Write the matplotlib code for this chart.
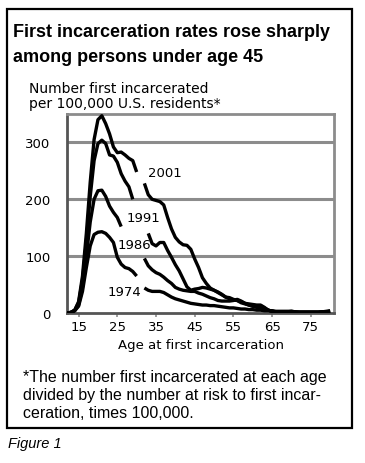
import numpy as np
import matplotlib.pyplot as plt
from matplotlib.patches import Rectangle

nan = np.nan

# ages 12..80
ages = np.arange(12, 81)

rate_2001 = [0, 1, 5, 20, 65, 140, 230, 305, 340, 347, 333, 315, 292, 282, 283,
             278, 272, 268, 248, nan, 228, 208, 200, 198, 196, 190, 168, 148, 133,
             125, 120, 119, 112, 95, 80, 62, 52, 44, 40, 36, 32, 28, 27, 24, 22,
             18, 16, 14, 12, 11, 13, 9, 5, 3, 2, 2, 1, 2, 3, 2, 1, 1, 1, 1, 1, 1,
             2, 3, 4]
rate_1991 = [0, 1, 5, 18, 58, 125, 205, 268, 298, 304, 298, 278, 276, 265, 245,
             232, 222, 200, nan, nan, nan, 140, 122, 118, 124, 124, 110, 98, 85,
             74, 60, 46, 40, 42, 43, 45, 44, 42, 40, 37, 33, 28, 25, 23, 22, 20,
             17, 16, 15, 14, 14, 10, 5, 3, 2, 2, 1, 2, 2, 2, 1, 1, 1, 1, 1, 1, 2,
             2, 3]
rate_1986 = [0, 1, 4, 14, 45, 100, 160, 200, 215, 216, 205, 188, 177, 168, 152,
             nan, nan, nan, nan, nan, 96, 83, 76, 71, 68, 63, 57, 52, 45, 42, 40,
             39, 38, 38, 35, 33, 30, 27, 25, 22, 21, 21, 21, 22, 24, 21, 17, 14,
             12, 10, 8, 7, 5, 3, 2, 2, 1, 1, 2, 1, 1, 1, 1, 1, 1, 1, 2, 2, 3]
rate_1974 = [0, 1, 4, 12, 38, 80, 118, 138, 142, 143, 140, 133, 124, 98, 86, 80,
             78, 73, 65, nan, 44, 40, 38, 38, 38, 36, 32, 28, 25, 23, 21, 19, 17,
             16, 15, 14, 14, 13, 13, 12, 11, 10, 9, 9, 8, 7, 7, 6, 6, 5, 5, 4, 4,
             4, 3, 3, 3, 3, 3, 2, 2, 2, 2, 2, 2, 2, 2, 2, 2]

series = [rate_2001, rate_1991, rate_1986, rate_1974]
labels = ["2001", "1991", "1986", "1974"]
label_pos = [(32.9, 247), (27.5, 168), (25.0, 121), (22.6, 37)]

xticks = [15, 25, 35, 45, 55, 65, 75]
yticks = [0, 100, 200, 300]

W, H = 365, 464
fig = plt.figure(figsize=(W / 100, H / 100), dpi=100)

# outer frame
fig.patches.append(Rectangle((7 / W, 1 - 429 / H), 345 / W, 419 / H,
                             transform=fig.transFigure, fill=False,
                             edgecolor="black", linewidth=1.6))

fig.text(13 / W, 1 - 37 / H, "First incarceration rates rose sharply",
         family="Liberation Sans", weight="bold", fontsize=13, va="baseline")
fig.text(13 / W, 1 - 62 / H, "among persons under age 45",
         family="Liberation Sans", weight="bold", fontsize=13, va="baseline")

fig.text(29 / W, 1 - 93 / H, "Number first incarcerated",
         family="DejaVu Sans", fontsize=10, va="baseline")
fig.text(29 / W, 1 - 108 / H, "per 100,000 U.S. residents*",
         family="DejaVu Sans", fontsize=10, va="baseline")

ax = fig.add_axes([67 / W, 1 - 314 / H, 267 / W, 199 / H])
for y in yticks[1:]:
    ax.axhline(y, color="#8c8c8c", linewidth=2.2, zorder=1)
for ys in series:
    ax.plot(ages, ys, color="black", linewidth=2.4, zorder=3,
            solid_capstyle="butt")
for lab, (x, y) in zip(labels, label_pos):
    ax.text(x, y, lab, family="DejaVu Sans", fontsize=9.5, va="center",
            ha="left")

ax.set_xlim(12, 81)
ax.set_ylim(0, 350)
ax.set_xticks(xticks)
ax.set_yticks(yticks)
ax.tick_params(axis="x", length=3, width=1.2, color="#8c8c8c", pad=2,
               labelsize=9.5)
ax.tick_params(axis="y", length=0, pad=12, labelsize=9.5)
for side in ["top", "right"]:
    ax.spines[side].set_color("#8c8c8c")
    ax.spines[side].set_linewidth(2)
for side in ["left", "bottom"]:
    ax.spines[side].set_color("#555555")
    ax.spines[side].set_linewidth(2)
ax.set_xlabel("Age at first incarceration", family="DejaVu Sans",
              fontsize=9.5, labelpad=4)

fig.text(23 / W, 1 - 382 / H, "*The number first incarcerated at each age",
         family="Liberation Sans", fontsize=11.5, va="baseline")
fig.text(23 / W, 1 - 400 / H, "divided by the number at risk to first incar-",
         family="Liberation Sans", fontsize=11.5, va="baseline")
fig.text(23 / W, 1 - 418 / H, "ceration, times 100,000.",
         family="Liberation Sans", fontsize=11.5, va="baseline")

fig.text(8 / W, 1 - 448 / H, "Figure 1", family="Liberation Sans",
         style="italic", fontsize=10.5, va="baseline")

fig.savefig("out.png", dpi=100)
